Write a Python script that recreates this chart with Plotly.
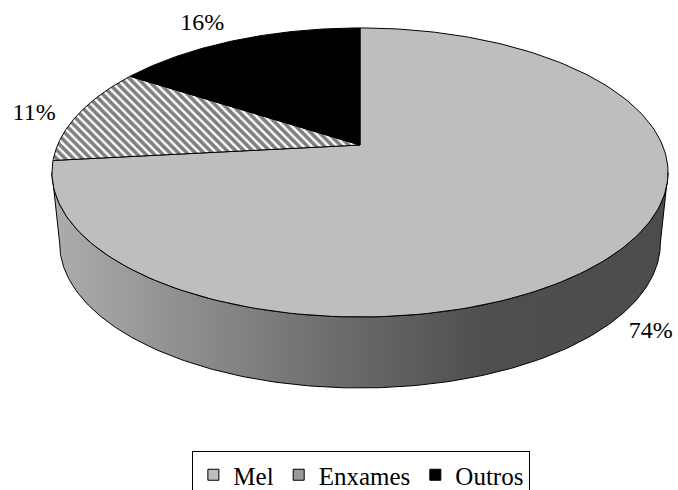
import numpy as np
import plotly.graph_objects as go

# ---- data ----
categories = ["Mel", "Enxames", "Outros"]
values = [74, 11, 16]
pct_labels = ["74%", "11%", "16%"]

# ---- styles ----
top_colors = ["#BEBEBE", "#FFFFFF", "#000000"]
legend_colors = ["#BEBEBE", "#9A9A9A", "#000000"]
FONT = "Liberation Serif"

# ---- 3D projection (perspective pie) ----
CX, CY = 360.0, 145.0
A, B, K = 302.4, 139.3, 0.19
DEPTH = 71.0
BOTTOM_SHRINK = 0.975


def proj(theta_deg, r=1.0):
    th = np.radians(theta_deg)
    X = r * np.sin(th)
    Z = r * np.cos(th)
    s = 1.0 / (1.0 + K * Z)
    return CX + A * X * s, CY - B * Z * s


def proj_bottom(theta_deg):
    x, y = proj(theta_deg)
    return CX + (x - CX) * BOTTOM_SHRINK, y + DEPTH


total = float(sum(values))
angles = np.concatenate([[0.0], np.cumsum(values) / total * 360.0])

fig = go.Figure()

# side wall (front half, visible)
t_side = np.degrees(np.arccos(-K))
th_top = np.linspace(t_side, 360 - t_side, 200)
xt, yt = proj(th_top)
xb, yb = proj_bottom(th_top[::-1])
xs = np.concatenate([xt, xb, xt[:1]])
ys = np.concatenate([yt, yb, yt[:1]])
fig.add_trace(go.Scatter(
    x=xs, y=ys, mode="lines", fill="toself",
    line=dict(color="black", width=1),
    fillgradient=dict(type="horizontal",
                      colorscale=[[0, "#ADADAD"], [0.45, "#6E6E6E"],
                                  [0.7, "#4F4F4F"], [1, "#4C4C4C"]]),
    showlegend=False, hoverinfo="skip"))

# top face slices
for i, name in enumerate(categories):
    th = np.linspace(angles[i], angles[i + 1], 200)
    ax, ay = proj(th)
    px = np.concatenate([[CX], ax, [CX]])
    py = np.concatenate([[CY], ay, [CY]])
    kw = {}
    if name == "Enxames":
        kw["fillpattern"] = dict(shape="\\", fgcolor="black", bgcolor="white",
                                 size=6, solidity=0.6)
        kw["fillcolor"] = "white"
    else:
        kw["fillcolor"] = top_colors[i]
    fig.add_trace(go.Scatter(
        x=px, y=py, mode="lines", fill="toself",
        line=dict(color="black", width=1),
        showlegend=False, hoverinfo="skip", **kw))

# percentage labels
label_offsets = [(33, 80), (-44, 0), (-34, -16)]
lx, ly = [], []
for i in range(len(values)):
    mid = (angles[i] + angles[i + 1]) / 2
    x, y = proj(mid)
    lx.append(x + label_offsets[i][0])
    ly.append(y + label_offsets[i][1])
fig.add_trace(go.Scatter(
    x=lx, y=ly, mode="text", text=pct_labels,
    textfont=dict(family=FONT, size=24, color="black"),
    showlegend=False, hoverinfo="skip"))

# legend entries
for i, name in enumerate(categories):
    fig.add_trace(go.Scatter(
        x=[None], y=[None], mode="markers", name=name,
        marker=dict(symbol="square", size=11, color=legend_colors[i],
                    line=dict(color="black", width=1))))

fig.update_layout(
    width=678, height=490,
    margin=dict(l=0, r=0, t=0, b=0, autoexpand=False),
    paper_bgcolor="white", plot_bgcolor="white",
    xaxis=dict(range=[0, 678], visible=False, fixedrange=True),
    yaxis=dict(range=[490, 0], visible=False, fixedrange=True),
    showlegend=True,
    legend=dict(orientation="h", x=0.533, xanchor="center",
                y=1 - 451 / 490, yanchor="top",
                bordercolor="black", borderwidth=1,
                font=dict(family=FONT, size=25, color="black"),
                itemwidth=30, bgcolor="white"),
    hovermode=False,
)

fig.write_html("out.html",
               config={"displayModeBar": False},
               post_script="document.body.style.margin='0';"
                           "document.body.style.overflow='hidden';")
